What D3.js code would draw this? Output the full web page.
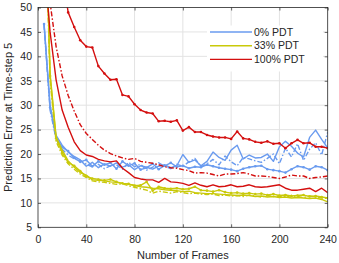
<!DOCTYPE html>
<html>
<head>
<meta charset="utf-8">
<script src="https://cdn.jsdelivr.net/npm/d3@7"></script>
<style>
  body { margin: 0; background: #fff; }
  svg { display: block; font-family: "Liberation Sans", Arial, sans-serif; }
</style>
</head>
<body>
<svg id="chart" width="339" height="263"></svg>
<script>
var frames = d3.range(5, 241, 5);

var xTicks = [0, 40, 80, 120, 160, 200, 240],
    yTicks = [5, 10, 15, 20, 25, 30, 35, 40, 45, 50];

// 0% PDT
var blueA = [46.8, 30, 23.8, 21.8, 20.4, 19.5, 18.8, 17.5, 18.3, 17.2, 18, 17.5, 18.2, 17.3, 17.8, 16.8, 17.6, 17.3, 16.9, 17.5,
             17.8, 17.2, 17.6, 19.9, 18.3, 18.8, 17.6, 18.5, 20.4, 19.3, 18.7, 20.8, 21.8, 19, 19.8, 19.2, 19.3, 20, 18.5, 21.5,
             22.6, 21.6, 20.2, 19.4, 23.4, 24.9, 23, 21.2];
var blueB = [46.6, 29.5, 23.3, 21.4, 20.6, 19.2, 18.4, 18.8, 17.5, 18.5, 17.8, 18.2, 17, 18.5, 17.6, 18.1, 16.8, 17.2, 18, 16.9,
             17.6, 18.2, 17.4, 17.6, 17.1, 17.4, 17.3, 17.8, 17.5, 17.2, 17, 16.8, 16.5, 17, 17.3, 17.5, 17.6, 16.9, 16.7, 16.5,
             16.2, 16.9, 17.5, 17.3, 16.8, 17.5, 17.3, 16.7];
var blueC = [46.4, 29, 23, 21, 19.8, 19, 18.7, 17.9, 17.4, 17.9, 17, 17.6, 17.8, 16.9, 18.3, 17.4, 17.9, 16.7, 17.3, 18.2,
             17.5, 17, 17.9, 17.5, 18.4, 19.1, 17.4, 18, 18.9, 17.8, 19.6, 18.4, 17.6, 19.3, 19, 18.6, 18.3, 19.1, 20, 18,
             21.2, 19.4, 22.1, 18.7, 21, 22.3, 19.8, 24.5];

// 33% PDT
var yellowA = [80, 36.5, 23.5, 20.8, 18.6, 17.3, 16.2, 15.7, 14.7, 14.6, 14.5, 14.3, 14.2, 14, 13.8, 13.6, 13.3, 13.2, 13, 12.9,
               12.7, 12.6, 12.5, 12.3, 12.4, 12.1, 12, 11.9, 11.9, 11.8, 11.7, 11.6, 11.5, 11.6, 11.5, 11.3, 11.4, 11.2, 11.3, 11.1,
               11.2, 11, 11.1, 11, 10.9, 11, 10.7, 10.2];
var yellowB = [82, 36, 23.2, 20.3, 18.3, 17.6, 16.5, 15.4, 15, 14.8, 14.6, 14.8, 14.3, 14, 13.9, 13.5, 13.6, 14.3, 12.5, 13.3,
               13, 12.9, 13, 12.8, 12.9, 13.3, 12.6, 12.5, 12.3, 12.6, 12.2, 12, 12.1, 11.9, 12, 11.8, 11.9, 11.6, 11.8, 11.5,
               11.6, 11.4, 11.5, 11.6, 11.3, 11.4, 11.2, 11];
var yellowC = [78, 35, 22.6, 19.8, 18, 16.9, 15.9, 15.2, 14.5, 14.3, 14.2, 14, 13.8, 13.9, 13.5, 13.2, 12.9, 12.6, 12, 12.4,
               12.2, 12, 12.3, 12.1, 11.9, 12, 11.8, 11.7, 11.8, 11.5, 11.6, 11.4, 11.5, 11.3, 11.6, 11.4, 11.2, 11.5, 11.3, 11.4,
               11.2, 11.5, 11.3, 11.1, 11.4, 11.2, 11, 10.9];

// 100% PDT
var redA = [110, 85, 68, 57, 49, 46, 43.3, 42, 41.8, 38, 36.5, 35.2, 35.3, 32.1, 31.8, 30.2, 29, 28.5, 28.3, 26.7,
            26.8, 26.6, 26.9, 24.8, 25.5, 24.5, 24.5, 23.9, 23.6, 23.4, 23.4, 23.1, 24.6, 23.2, 23, 22.5, 22.3, 22.6, 22.1, 22.2,
            21.2, 22.2, 22.9, 22.2, 22.3, 21.5, 21.5, 21.2];
var redB = [90, 51, 42, 36, 32, 28.8, 26, 24.2, 23, 21.8, 20.8, 20.1, 19.6, 19.2, 18.9, 19.1, 18.5, 18.3, 18.1, 17.8,
            17.4, 17.2, 17.1, 16.8, 16.6, 16.1, 16.2, 16.1, 15.8, 15.5, 15.9, 15.9, 16, 16.2, 15.9, 15.5, 15.5, 15.4, 15.2, 15,
            15.3, 15.7, 15.5, 15.5, 15, 15.2, 15.3, 15.5];
var redC = [60, 45, 35.2, 29, 25.5, 22.5, 20.7, 19.8, 19.5, 18.9, 18.6, 18.4, 18.6, 17.1, 16.2, 15.2, 14.9, 14.7, 14.7, 14.2,
            15, 14.3, 14.2, 14, 13.6, 14.1, 13.6, 13.3, 13.7, 13.3, 13.4, 13.7, 13.3, 13.4, 13.7, 13.3, 13.2, 13.3, 13.5, 13.7,
            13, 12.6, 12.6, 12.8, 13, 12.3, 13, 12.1];

var legendNames = ['0% PDT', '33% PDT', '100% PDT'],
    colors = ['#6a9bef', '#c9c90a', '#d40f0f'];

var series = [
    { v: blueB, c: 0, dash: null, dots: true },
    { v: blueC, c: 0, dash: '5,2,1.5,2', dots: false },
    { v: blueA, c: 0, dash: null, dots: false },
    { v: yellowA, c: 1, dash: null, dots: false },
    { v: yellowC, c: 1, dash: '5,2,1.5,2', dots: false },
    { v: yellowB, c: 1, dash: null, dots: true },
    { v: redC, c: 2, dash: null, dots: false },
    { v: redB, c: 2, dash: '5,2,1.5,2', dots: false },
    { v: redA, c: 2, dash: null, dots: true }
];

var svg = d3.select('#chart'),
    m = { top: 7.5, right: 11.3, bottom: 35.7, left: 38 },
    w = 339 - m.left - m.right,
    h = 263 - m.top - m.bottom,
    axisColor = '#262626';

var x = d3.scaleLinear().domain([0, 240]).range([0, w]),
    y = d3.scaleLinear().domain([5, 50]).range([h, 0]);

var g = svg.append('g').attr('transform', 'translate(' + m.left + ',' + m.top + ')');

g.append('defs').append('clipPath').attr('id', 'clip')
    .append('rect').attr('width', w).attr('height', h);

// grid
g.append('g').selectAll('line').data(xTicks.slice(1, -1)).join('line')
    .attr('x1', d => x(d)).attr('x2', d => x(d)).attr('y1', 0).attr('y2', h)
    .attr('stroke', '#e3e3e3').attr('stroke-width', 1);
g.append('g').selectAll('line').data(yTicks.slice(1, -1)).join('line')
    .attr('y1', d => y(d)).attr('y2', d => y(d)).attr('x1', 0).attr('x2', w)
    .attr('stroke', '#e3e3e3').attr('stroke-width', 1);

// lines
var line = d3.line().x((d, i) => x(frames[i])).y(d => y(d));
var plot = g.append('g').attr('clip-path', 'url(#clip)');

series.forEach(function (s) {
    plot.append('path')
        .attr('d', line(s.v))
        .attr('fill', 'none')
        .attr('stroke', colors[s.c])
        .attr('stroke-width', 1.4)
        .attr('stroke-dasharray', s.dash)
        .attr('stroke-linejoin', 'round');
    if (s.dots) {
        plot.append('g').selectAll('circle').data(s.v).join('circle')
            .attr('cx', (d, i) => x(frames[i]))
            .attr('cy', d => y(d))
            .attr('r', 1.3)
            .attr('fill', colors[s.c]);
    }
});

// axes (box with inward ticks)
function styleAxis(sel) {
    sel.select('.domain').remove();
    sel.selectAll('.tick line').attr('stroke', axisColor).attr('stroke-width', 0.7);
    sel.selectAll('.tick text').attr('fill', axisColor).style('font-size', '10.5px');
}

g.append('g').attr('transform', 'translate(0,' + h + ')')
    .call(d3.axisBottom(x).tickValues(xTicks).tickSizeInner(-3).tickSizeOuter(0).tickPadding(8))
    .call(styleAxis);
g.append('g')
    .call(d3.axisTop(x).tickValues(xTicks).tickSizeInner(-3).tickSizeOuter(0).tickFormat(''))
    .call(styleAxis);
g.append('g')
    .call(d3.axisLeft(y).tickValues(yTicks).tickSizeInner(-3).tickSizeOuter(0).tickPadding(6))
    .call(styleAxis);
g.append('g').attr('transform', 'translate(' + w + ',0)')
    .call(d3.axisRight(y).tickValues(yTicks).tickSizeInner(-3).tickSizeOuter(0).tickFormat(''))
    .call(styleAxis);

g.append('rect').attr('width', w).attr('height', h)
    .attr('fill', 'none').attr('stroke', axisColor).attr('stroke-width', 0.8);

// legend
var lg = g.append('g').attr('transform', 'translate(' + x(140) + ',' + 18 + ')');
lg.append('rect').attr('x', 0).attr('y', 0).attr('width', 116).attr('height', 46).attr('fill', '#fff');
legendNames.forEach(function (name, i) {
    var yy = 6.5 + i * 13.7;
    lg.append('line').attr('x1', 3).attr('x2', 45).attr('y1', yy).attr('y2', yy)
        .attr('stroke', colors[i]).attr('stroke-width', 1.4);
    lg.append('text').attr('x', 47).attr('y', yy + 3.6).text(name)
        .attr('fill', axisColor).style('font-size', '10.5px');
});

// axis titles
svg.append('text')
    .attr('x', m.left + w / 2).attr('y', 259)
    .attr('text-anchor', 'middle').attr('fill', axisColor).style('font-size', '11px')
    .text('Number of Frames');
svg.append('text')
    .attr('transform', 'translate(12,' + (m.top + h / 2) + ') rotate(-90)')
    .attr('text-anchor', 'middle').attr('fill', axisColor).style('font-size', '11px')
    .text('Prediction Error at Time-step 5');
</script>
</body>
</html>
